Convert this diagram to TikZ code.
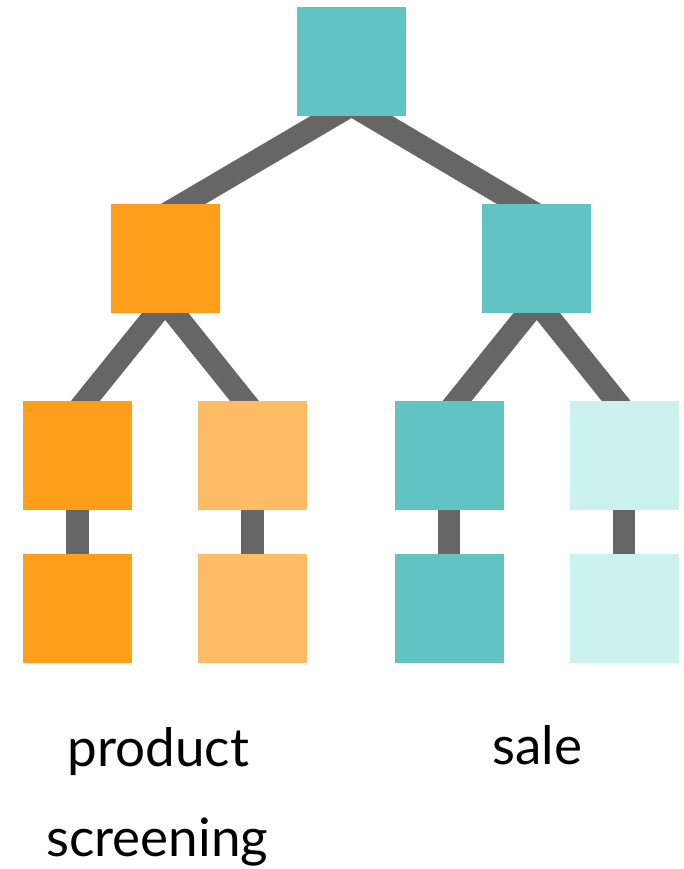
\documentclass[tikz,border=0pt]{standalone}
\usepackage{fontspec}
\setmainfont{Lato}
\pgfdeclarelayer{back}
\pgfsetlayers{back,main}
\begin{document}
\begin{tikzpicture}[x=1pt,y=-1pt,
  box/.style={minimum size=109pt,inner sep=0pt,outer sep=0pt},
  link/.style={draw=linkgrey,line width=22.5pt},
  label/.style={anchor=base,inner sep=0pt,font=\fontsize{53}{60}\selectfont}]
\definecolor{teal}{RGB}{98,196,194}
\definecolor{lightteal}{RGB}{204,242,238}
\definecolor{orange}{RGB}{255,158,27}
\definecolor{lightorange}{RGB}{255,188,102}
\definecolor{linkgrey}{RGB}{102,102,102}
\useasboundingbox (0,0) rectangle (683,869);

% tree nodes
\node[box,fill=teal] (top) at (351.5,61.5) {};
\node[box,fill=orange] (l) at (165.2,258) {};
\node[box,fill=teal] (r) at (536.8,258) {};
\node[box,fill=orange] (ll) at (77.3,455) {};
\node[box,fill=lightorange] (lr) at (252.5,455) {};
\node[box,fill=teal] (rl) at (449,455) {};
\node[box,fill=lightteal] (rr) at (624.2,455) {};
\node[box,fill=orange] (llb) at (77.3,608) {};
\node[box,fill=lightorange] (lrb) at (252.5,608) {};
\node[box,fill=teal] (rlb) at (449,608) {};
\node[box,fill=lightteal] (rrb) at (624.2,608) {};

% connectors, drawn beneath the boxes
\begin{pgfonlayer}{back}
  \draw[link] ([yshift=11pt]top.south) -- ([yshift=-11pt]l.north);
  \draw[link] ([yshift=11pt]top.south) -- ([yshift=-11pt]r.north);
  \draw[link] ([yshift=10.5pt]l.south) -- ([yshift=-10.5pt]ll.north);
  \draw[link] ([yshift=10.5pt]l.south) -- ([yshift=-10.5pt]lr.north);
  \draw[link] ([yshift=10.5pt]r.south) -- ([yshift=-10.5pt]rl.north);
  \draw[link] ([yshift=10.5pt]r.south) -- ([yshift=-10.5pt]rr.north);
  \draw[link] (ll) -- (llb);
  \draw[link] (lr) -- (lrb);
  \draw[link] (rl) -- (rlb);
  \draw[link] (rr) -- (rrb);
\end{pgfonlayer}

% captions
\node[label] (t1) at (158.3,766.7) {product};
\node[label] (t2) at (157.4,856.7) {screening};
\node[label] (t3) at (537.5,764) {sale};
\end{tikzpicture}
\end{document}
